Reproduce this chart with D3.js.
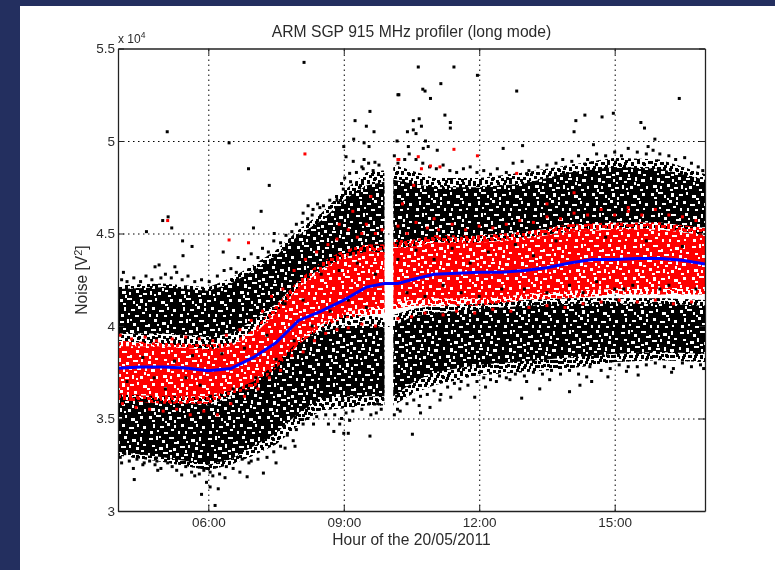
<!DOCTYPE html>
<html>
<head>
<meta charset="utf-8">
<script src="https://cdn.jsdelivr.net/npm/d3@7"></script>
<style>
  html, body { margin: 0; padding: 0; background: #fff; }
  svg { display: block; }
  text { font-family: "Liberation Sans", Arial, sans-serif; fill: #2b2b2b; }
</style>
</head>
<body>
<div id="chart"></div>
<script>
// values are in units of 10^4 V^2, hours are hours of the day
const xTicks = [6, 9, 12, 15];
const xTickLabels = ['06:00', '09:00', '12:00', '15:00'];
const yTicks = [3, 3.5, 4, 4.5, 5, 5.5];
const yTickLabels = ['3', '3.5', '4', '4.5', '5', '5.5'];

const meanHours = [4, 4.5, 5, 5.5, 6, 6.5, 7, 7.5, 8, 8.5, 9, 9.5, 9.9, 10.2, 10.5, 11, 11.5, 12, 12.5, 13, 13.5, 14, 14.5, 15, 15.5, 16, 16.5, 17];
const meanNoise = [3.771, 3.778, 3.778, 3.773, 3.758, 3.77, 3.83, 3.91, 4.03, 4.08, 4.14, 4.21, 4.23, 4.23, 4.25, 4.28, 4.285, 4.29, 4.29, 4.30, 4.315, 4.34, 4.36, 4.36, 4.365, 4.365, 4.355, 4.335];

// envelopes of the dense clouds, read at these hours. null is the data gap near 10:00
const bandHours = [4, 5, 6, 6.5, 7, 7.5, 8, 8.5, 9, 9.5, 9.9, 10, 10.1, 10.5, 11, 12, 13, 14, 15, 16, 17];

const upperTop = [4.22, 4.23, 4.21, 4.26, 4.33, 4.41, 4.52, 4.61, 4.73, 4.83, 4.84, null, 4.87, 4.84, 4.80, 4.80, 4.83, 4.87, 4.91, 4.90, 4.82];
const upperBottom = [3.92, 3.90, 3.87, 3.90, 3.97, 4.06, 4.18, 4.26, 4.33, 4.36, 4.37, null, 4.41, 4.42, 4.44, 4.45, 4.48, 4.51, 4.53, 4.53, 4.49];
const upperCoreTop = [4.20, 4.21, 4.19, 4.23, 4.30, 4.38, 4.49, 4.57, 4.68, 4.76, 4.78, null, 4.79, 4.77, 4.75, 4.75, 4.77, 4.83, 4.86, 4.85, 4.79];
const upperCoreBottom = [3.96, 3.96, 3.94, 3.96, 4.03, 4.12, 4.24, 4.31, 4.37, 4.40, 4.41, null, 4.44, 4.46, 4.47, 4.49, 4.51, 4.54, 4.56, 4.56, 4.53];

const lowerTop = [3.68, 3.665, 3.64, 3.68, 3.82, 3.87, 3.95, 4.00, 4.06, 4.06, 4.04, null, 4.06, 4.09, 4.11, 4.12, 4.14, 4.15, 4.15, 4.15, 4.14];
const lowerBottom = [3.30, 3.265, 3.22, 3.25, 3.30, 3.36, 3.465, 3.545, 3.555, 3.57, 3.57, null, 3.57, 3.63, 3.68, 3.735, 3.75, 3.77, 3.805, 3.815, 3.805];
const lowerCoreTop = [3.62, 3.60, 3.57, 3.62, 3.75, 3.83, 3.92, 3.97, 4.00, 4.00, 3.99, null, 4.00, 4.05, 4.07, 4.09, 4.11, 4.12, 4.12, 4.12, 4.11];
const lowerCoreBottom = [3.32, 3.29, 3.25, 3.28, 3.35, 3.42, 3.53, 3.61, 3.62, 3.62, 3.62, null, 3.62, 3.69, 3.75, 3.79, 3.81, 3.83, 3.85, 3.86, 3.85];

const redTop = [3.92, 3.91, 3.90, 3.91, 3.98, 4.11, 4.25, 4.345, 4.41, 4.44, 4.44, null, 4.465, 4.465, 4.49, 4.49, 4.51, 4.55, 4.56, 4.56, 4.53];
const redBottom = [3.60, 3.58, 3.58, 3.63, 3.665, 3.77, 3.90, 3.99, 4.04, 4.06, 4.06, null, 4.09, 4.11, 4.11, 4.11, 4.14, 4.15, 4.17, 4.17, 4.17];
const redCoreTop = [3.89, 3.89, 3.87, 3.89, 3.95, 4.07, 4.21, 4.30, 4.37, 4.40, 4.40, null, 4.42, 4.43, 4.45, 4.45, 4.47, 4.51, 4.52, 4.52, 4.49];
const redCoreBottom = [3.63, 3.62, 3.62, 3.65, 3.70, 3.80, 3.92, 4.01, 4.07, 4.10, 4.10, null, 4.13, 4.14, 4.15, 4.15, 4.17, 4.19, 4.20, 4.20, 4.20];

// separate points read one by one: [hour, noise]
const blackOutliers = [
  [8.12,5.425],[5.09,5.05],[6.46,4.99],[6.89,4.85],[7.35,4.76],[7.17,4.62],[7.0,4.53],[7.46,4.50],[4.63,4.51],[4.99,4.57],[5.11,4.59],[5.19,4.53],[5.43,4.46],[5.64,4.43],[5.44,4.38],[4.82,4.32],[4.91,4.33],[5.26,4.32],[4.12,4.29],[6.33,4.40],[6.66,4.37],
  [9.25,5.11],[9.58,5.16],[9.5,5.08],[9.67,5.05],[9.22,5.01],[9.45,4.99],[9.56,4.97],[9.0,4.97],[9.05,4.915],[9.21,4.89],[9.45,4.90],[9.69,4.885],[9.13,4.825],[9.43,4.85],[10.2,5.25],[10.18,5.0],
  [8.21,4.65],[8.32,4.63],[8.47,4.64],[8.1,4.61],[8.69,4.68],[8.84,4.70],[8.99,4.74],
  [10.65,5.40],[11.44,5.40],[11.96,5.355],[12.83,5.27],[10.22,5.25],[10.75,5.28],[10.8,5.27],[11.15,5.31],[10.92,5.23],[11.24,5.14],[10.54,5.11],[10.67,5.12],[10.72,5.08],[10.54,5.06],[10.41,5.05],[10.6,5.04],[11.36,5.10],[11.36,5.07],
  [16.43,5.23],[14.34,5.14],[14.72,5.13],[14.97,5.15],[14.14,5.11],[14.1,5.05],[15.58,5.10],[15.66,5.07],[15.89,5.01],[15.74,4.97],[14.53,4.98],[12.53,4.96],[12.96,4.975],[10.81,5.0],[10.87,4.97],[10.76,4.96],[10.43,4.97],[11.07,4.95],
  [5.85,3.09],[5.96,3.155],[6.04,3.13],[6.22,3.12],[6.15,3.03],[6.04,3.21],[6.37,3.18],[4.36,3.17],[4.34,3.23],[5.41,3.195],[5.63,3.21],[6.86,3.185],[7.22,3.205],[6.7,3.21],[7.5,3.26],[7.88,3.38],[7.92,3.35],[7.7,3.34],
  [9.0,3.42],[8.78,3.43],[9.1,3.42],[8.91,3.47],[9.58,3.405],[9.13,3.49],[8.66,3.47],[8.33,3.47],[9.72,3.53],[9.83,3.55],[4.08,3.26],[4.58,3.26],[4.88,3.22],[4.86,3.27],[6.9,3.26],
  [10.52,3.415],[10.7,3.53],[10.91,3.56],[10.67,3.57],[10.19,3.55],[10.17,3.62],[12.94,3.61],[14.0,3.645],[14.23,3.68],[13.34,3.66],[11.9,3.615],[11.37,3.615],[11.13,3.6],[12.14,3.67],[11.57,3.66],
  [16.26,3.75],[15.52,3.735],[15.26,3.755],[16.97,3.77],[14.38,3.725],[14.49,3.70],[14.85,3.725],[13.56,3.71],[13.05,3.70],[12.68,3.71],[12.38,3.70]
];

const upperFringe = [
  [4.08,4.25],[4.2,4.24],[4.35,4.26],[4.5,4.24],[4.62,4.27],[4.75,4.25],[4.95,4.26],[5.05,4.28],[5.18,4.26],[5.3,4.29],[5.42,4.25],[5.55,4.27],[5.7,4.24],[5.85,4.25],[6.02,4.24],[6.2,4.27],[6.35,4.30],[6.5,4.31],[6.62,4.29],[6.8,4.36],[6.95,4.39],[7.1,4.37],[7.2,4.42],[7.33,4.40],[7.45,4.46],[7.6,4.45],[7.72,4.49],[7.85,4.51],[7.95,4.55],[8.08,4.56],[8.2,4.58],[8.3,4.60],[8.42,4.66],[8.55,4.65],[8.7,4.64],[8.85,4.68],[8.95,4.77],[9.02,4.80],[9.15,4.78],[9.28,4.83],[9.4,4.86],[9.55,4.88],[9.65,4.84],[9.78,4.87],
  [10.12,4.92],[10.2,4.88],[10.35,4.90],[10.45,4.93],[10.6,4.90],[10.75,4.88],[10.9,4.86],[11.05,4.85],[11.2,4.87],[11.35,4.84],[11.5,4.83],[11.65,4.85],[11.8,4.86],[11.95,4.83],[12.1,4.84],[12.25,4.82],[12.4,4.85],[12.6,4.83],[12.75,4.88],[12.95,4.89],[13.1,4.84],[13.3,4.86],[13.5,4.87],[13.7,4.88],[13.85,4.90],[14.05,4.89],[14.2,4.92],[14.4,4.90],[14.6,4.93],[14.8,4.92],[15.0,4.94],[15.15,4.92],[15.3,4.96],[15.5,4.94],[15.7,4.93],[15.85,4.95],[16.0,4.93],[16.2,4.92],[16.35,4.90],[16.55,4.91],[16.7,4.88],[16.85,4.86],[16.95,4.84]
];

const lowerFringe = [
  [4.05,3.29],[4.15,3.31],[4.25,3.27],[4.42,3.28],[4.55,3.25],[4.7,3.27],[4.82,3.25],[4.95,3.23],[5.1,3.26],[5.2,3.24],[5.3,3.22],[5.5,3.24],[5.7,3.19],[5.8,3.2],[5.9,3.22],[6.1,3.19],[6.25,3.2],[6.4,3.24],[6.55,3.23],[6.75,3.28],[6.95,3.27],[7.1,3.28],[7.3,3.29],[7.45,3.32],[7.6,3.35],[7.75,3.41],[7.95,3.44],[8.1,3.47],[8.2,3.5],[8.4,3.51],[8.6,3.52],[8.8,3.52],[8.95,3.5],[9.05,3.53],[9.2,3.54],[9.4,3.55],[9.6,3.52],[9.75,3.58],
  [10.12,3.52],[10.25,3.54],[10.4,3.58],[10.55,3.6],[10.7,3.62],[10.85,3.63],[11,3.65],[11.15,3.63],[11.3,3.67],[11.45,3.69],[11.6,3.7],[11.75,3.68],[11.95,3.7],[12.1,3.72],[12.25,3.71],[12.45,3.73],[12.6,3.72],[12.8,3.74],[13,3.73],[13.2,3.75],[13.4,3.74],[13.6,3.76],[13.8,3.74],[14,3.76],[14.2,3.74],[14.45,3.78],[14.7,3.76],[14.9,3.77],[15.1,3.79],[15.3,3.78],[15.5,3.78],[15.7,3.79],[15.9,3.8],[16.1,3.78],[16.3,3.77],[16.5,3.8],[16.7,3.78],[16.9,3.79]
];

const blackOnRed = [
  [4.2,3.7],[4.55,3.83],[4.8,3.72],[5.05,3.66],[5.25,3.81],[5.5,3.72],[5.65,3.84],[5.82,3.68],[6.05,3.62],[6.3,3.85],[6.55,3.66],[6.8,3.88],[7.05,3.72],[7.3,3.95],[7.5,3.82],[7.7,4.12],[7.9,3.92],[8.1,4.14],[8.3,4.0],[8.5,4.28],[8.7,4.08],[8.9,4.3],[9.1,4.14],[9.3,4.34],[9.5,4.1],[9.7,4.28],
  [10.2,4.36],[10.4,4.18],[10.6,4.41],[10.8,4.16],[11,4.36],[11.2,4.22],[11.4,4.42],[11.6,4.18],[11.8,4.34],[12,4.16],[12.2,4.4],[12.5,4.2],[12.8,4.44],[13.0,4.2],[13.2,4.38],[13.5,4.18],[13.7,4.46],[14,4.22],[14.3,4.18],[14.6,4.24],[14.8,4.48],[15,4.2],[15.2,4.2],[15.4,4.22],[15.7,4.46],[16,4.2],[16.2,4.22],[16.5,4.43],[16.8,4.2]
];

const redOutliers = [
  [5.1,4.57],[6.46,4.465],[6.89,4.45],[8.14,4.93],[10.2,4.90],[11.44,4.955],[11.96,4.92],[10.22,4.90],[10.65,4.915],[12.83,4.825],[10.92,4.865],[10.72,4.85],[11.13,4.86],
  [8.9,4.55],[9.2,4.62],[9.4,4.5],[9.6,4.7],[10.3,4.66],[10.55,4.76],[11.0,4.58],[13.5,4.66],[14.1,4.72],[15.3,4.64],
  [4.05,3.95],[4.3,3.93],[4.6,3.94],[4.85,3.92],[5.2,3.93],[5.5,3.94],[5.8,3.93],[6.1,3.92],[6.4,3.95],[6.7,3.98],[6.95,4.03],[7.2,4.08],[7.4,4.16],[7.65,4.2],[7.9,4.3],[8.15,4.36],[8.4,4.4],[8.65,4.44],[8.85,4.47],[9.1,4.52],[9.3,4.48],[9.5,4.55],[9.7,4.5],[9.85,4.52],[10.2,4.54],[10.4,4.5],[10.6,4.56],[10.85,4.53],[11.1,4.52],[11.4,4.55],[11.7,4.52],[12,4.54],[12.3,4.53],[12.6,4.55],[12.9,4.57],[13.2,4.56],[13.5,4.59],[13.8,4.58],[14.1,4.61],[14.4,4.6],[14.7,4.63],[15,4.6],[15.3,4.62],[15.6,4.6],[15.9,4.63],[16.2,4.6],[16.5,4.59],[16.8,4.57],
  [4.1,3.58],[4.4,3.56],[4.7,3.55],[5,3.54],[5.3,3.55],[5.6,3.52],[5.9,3.54],[6.2,3.52],[6.5,3.58],[6.8,3.62],[7.1,3.66],[7.35,3.72],[7.6,3.76],[7.85,3.84],[8.1,3.86],[8.35,3.92],[8.6,3.96],[8.85,3.98],[9.1,3.99],[9.4,4.01],[9.7,4.0],[10.2,4.04],[10.5,4.05],[10.8,4.07],[11.2,4.06],[11.5,4.08],[11.9,4.07],[12.3,4.09],[12.7,4.08],[13.1,4.1],[13.5,4.11],[13.9,4.1],[14.3,4.12],[14.7,4.13],[15.1,4.14],[15.5,4.13],[15.9,4.14],[16.3,4.12],[16.7,4.13]
];

const width = 775;
const height = 570;
const margin = { top: 48.5, right: 70, bottom: 59, left: 118 };

const svg = d3.select('#chart').append('svg')
  .attr('width', width)
  .attr('height', height);

// slide background
svg.append('rect').attr('width', width).attr('height', height).attr('fill', '#232f5f');
svg.append('rect').attr('x', 20).attr('y', 6).attr('width', width - 20).attr('height', height - 6).attr('fill', '#fff');

const x = d3.scaleLinear().domain([4, 17]).range([margin.left, width - margin.right]);
const y = d3.scaleLinear().domain([3, 5.5]).range([height - margin.bottom, margin.top]);

// the clouds are too dense to read point by point, so they get a speckled fill:
// loose blobs on the outside of a cloud, a solid colour with white holes in its core
const blobTile = [
  [1,2],[6,0],[12,3],[17,1],[24,2],[29,5],[35,1],[41,3],[47,0],[53,4],
  [3,7],[9,8],[15,6],[21,7],[27,10],[33,6],[38,8],[44,7],[50,9],[56,8],
  [0,12],[6,13],[12,11],[18,12],[23,13],[31,12],[36,14],[42,12],[47,13],[54,14],
  [3,17],[9,18],[15,16],[20,18],[26,16],[29,19],[34,18],[40,17],[45,18],[51,18],[57,19],
  [1,22],[7,23],[13,21],[18,23],[24,21],[31,24],[37,22],[43,23],[49,23],[55,24],
  [4,27],[10,28],[15,26],[21,27],[27,26],[34,28],[40,27],[46,28],[52,28],[57,29],
  [0,32],[7,33],[13,32],[18,31],[24,32],[30,31],[36,33],[43,32],[49,33],[54,33],
  [3,37],[10,38],[16,36],[21,37],[27,36],[33,38],[39,37],[45,37],[51,38],[56,38],
  [1,42],[7,43],[13,41],[19,42],[24,42],[30,43],[36,42],[42,42],[48,43],[54,43],
  [4,47],[10,47],[16,46],[22,47],[27,48],[33,47],[39,47],[45,48],[51,48],[57,48]
];
const holeTile = [
  [2,3,3,1],[9,1,1,3],[15,5,2,2],[22,2,4,1],[30,6,1,2],[36,1,2,2],[44,4,3,2],[52,2,1,3],
  [5,10,2,1],[12,12,3,2],[19,9,1,3],[26,13,2,2],[33,11,4,1],[41,10,1,2],[48,12,2,2],[55,9,2,1],
  [1,18,1,2],[8,19,2,3],[16,17,4,1],[23,20,1,2],[29,18,2,2],[37,19,3,1],[45,18,1,3],[51,20,3,2],
  [4,26,3,2],[11,27,1,2],[18,25,2,2],[25,28,3,1],[32,26,1,3],[40,27,2,2],[47,25,2,1],[56,27,1,2],
  [2,34,2,2],[9,33,4,1],[15,36,1,2],[22,34,2,3],[30,35,3,1],[37,33,1,2],[43,36,3,2],[52,34,2,2],
  [6,42,1,3],[13,44,3,1],[20,41,2,2],[27,43,1,2],[34,42,2,2],[41,45,4,1],[49,42,1,2],[55,44,2,2],
  [3,49,2,2],[17,50,3,1],[31,49,1,2],[46,50,2,1],
  [12,1,1,1],[27,7,2,1],[39,6,1,1],[49,7,1,2],[8,14,1,1],[22,15,2,1],[38,15,1,2],[53,15,2,1],
  [12,22,2,1],[26,23,1,1],[34,22,2,1],[44,23,1,2],[7,30,1,2],[21,30,2,1],[36,29,1,1],[50,30,2,1],
  [5,38,2,1],[18,39,1,1],[27,38,1,2],[47,39,2,1],[10,48,1,1],[24,47,2,1],[38,49,1,2],[53,49,1,1]
];
const defs = svg.append('defs');

function tile(id, shift) {
  return defs.append('pattern')
    .attr('id', id)
    .attr('patternUnits', 'userSpaceOnUse')
    .attr('patternTransform', `translate(${shift})`)
    .attr('width', 59)
    .attr('height', 53);
}
function blobs(id, color, shift) {
  tile(id, shift).selectAll('rect').data(blobTile).join('rect')
    .attr('x', d => d[0])
    .attr('y', d => d[1])
    .attr('width', 3)
    .attr('height', 3)
    .attr('fill', color);
}
function holes(id, color, shift) {
  const p = tile(id, shift);
  p.append('rect').attr('width', 59).attr('height', 53).attr('fill', color);
  p.selectAll('rect.hole').data(holeTile).join('rect')
    .attr('class', 'hole')
    .attr('x', d => d[0])
    .attr('y', d => d[1])
    .attr('width', d => d[2] + 1)
    .attr('height', d => d[3] + 1)
    .attr('fill', '#fff');
}
blobs('blackLoose', '#000', '0,0');
blobs('blackLoose2', '#000', '31,19');
blobs('redLoose', '#f00', '17,23');
blobs('redLoose2', '#f00', '44,8');
holes('blackCore', '#000', '0,0');
holes('blackCoreLow', '#000', '29,11');
holes('redCore', '#f00', '41,31');

defs.append('clipPath').attr('id', 'plot')
  .append('rect')
  .attr('x', margin.left).attr('y', margin.top)
  .attr('width', x.range()[1] - x.range()[0])
  .attr('height', y.range()[0] - y.range()[1]);

defs.append('filter').attr('id', 'soft')
  .attr('filterUnits', 'userSpaceOnUse')
  .attr('x', 0).attr('y', 0).attr('width', width).attr('height', height)
  .append('feGaussianBlur').attr('stdDeviation', 0.45);

const chart = svg.append('g').attr('filter', 'url(#soft)');

// grid under the data
const gridStyle = g => {
  g.select('.domain').remove();
  g.selectAll('.tick line').attr('stroke', '#000').attr('stroke-dasharray', '1.5 3.5');
  g.selectAll('.tick text').remove();
};
chart.append('g')
  .attr('transform', `translate(0,${y(3)})`)
  .call(d3.axisBottom(x).tickValues(xTicks).tickSize(-(y(3) - y(5.5))))
  .call(gridStyle);
chart.append('g')
  .attr('transform', `translate(${x(4)},0)`)
  .call(d3.axisLeft(y).tickValues(yTicks.slice(1, 5)).tickSize(-(x(17) - x(4))))
  .call(gridStyle);

const data = chart.append('g').attr('clip-path', 'url(#plot)');

function band(top, bottom, fill) {
  const area = d3.area()
    .defined((d, i) => top[i] !== null)
    .x(d => x(d))
    .y0((d, i) => y(bottom[i]))
    .y1((d, i) => y(top[i]));
  data.append('path').datum(bandHours).attr('d', area).attr('fill', fill);
}

function dots(points, color) {
  data.append('g').selectAll('rect').data(points).join('rect')
    .attr('x', d => x(d[0]) - 1.5)
    .attr('y', d => y(d[1]) - 1.5)
    .attr('width', 3)
    .attr('height', 3)
    .attr('fill', color);
}

band(upperTop, upperBottom, 'url(#blackLoose)');
band(upperTop, upperBottom, 'url(#blackLoose2)');
band(lowerTop, lowerBottom, 'url(#blackLoose)');
band(lowerTop, lowerBottom, 'url(#blackLoose2)');
band(upperCoreTop, upperCoreBottom, 'url(#blackCore)');
band(lowerCoreTop, lowerCoreBottom, 'url(#blackCoreLow)');
dots(blackOutliers, '#000');
dots(upperFringe, '#000');
dots(lowerFringe, '#000');

band(redTop, redBottom, 'url(#redLoose)');
band(redTop, redBottom, 'url(#redLoose2)');
band(redCoreTop, redCoreBottom, 'url(#redCore)');
dots(redOutliers, '#f00');
dots(blackOnRed, '#000');

const meanLine = d3.line()
  .x(d => x(d))
  .y((d, i) => y(meanNoise[i]));
data.append('path').datum(meanHours)
  .attr('d', meanLine)
  .attr('fill', 'none')
  .attr('stroke', '#0000ff')
  .attr('stroke-width', 3);

// frame and ticks
const axisStyle = g => {
  g.select('.domain').attr('stroke', '#222').attr('stroke-width', 1.3);
  g.selectAll('.tick line').attr('stroke', '#222');
  g.selectAll('text').attr('font-size', 13.5).attr('font-family', '"Liberation Sans", Arial, sans-serif');
};
chart.append('g')
  .attr('transform', `translate(0,${y(3)})`)
  .call(d3.axisBottom(x).tickValues(xTicks).tickFormat((d, i) => xTickLabels[i]).tickSize(-6).tickSizeOuter(0).tickPadding(6))
  .call(axisStyle);
chart.append('g')
  .attr('transform', `translate(${x(4)},0)`)
  .call(d3.axisLeft(y).tickValues(yTicks).tickFormat((d, i) => yTickLabels[i]).tickSize(-6).tickSizeOuter(0).tickPadding(3))
  .call(axisStyle);
chart.append('g')
  .attr('transform', `translate(0,${y(5.5)})`)
  .call(d3.axisTop(x).tickValues(xTicks).tickFormat('').tickSize(-6).tickSizeOuter(0))
  .call(axisStyle);
chart.append('g')
  .attr('transform', `translate(${x(17)},0)`)
  .call(d3.axisRight(y).tickValues(yTicks).tickFormat('').tickSize(-6).tickSizeOuter(0))
  .call(axisStyle);

chart.append('text')
  .attr('x', 411.5)
  .attr('y', 37)
  .attr('text-anchor', 'middle')
  .attr('font-size', 15.7)
  .text('ARM SGP 915 MHz profiler (long mode)');

const scale = chart.append('text').attr('x', 118).attr('y', 42.5).attr('font-size', 12);
scale.append('tspan').text('x 10');
scale.append('tspan').attr('dy', -5).attr('font-size', 8.5).text('4');

chart.append('text')
  .attr('x', 411.5)
  .attr('y', 545)
  .attr('text-anchor', 'middle')
  .attr('font-size', 15.6)
  .text('Hour of the 20/05/2011');

const ylab = chart.append('text')
  .attr('transform', 'translate(87,280) rotate(-90)')
  .attr('text-anchor', 'middle')
  .attr('font-size', 15.6);
ylab.append('tspan').text('Noise [V');
ylab.append('tspan').attr('dy', -5).attr('font-size', 11).text('2');
ylab.append('tspan').attr('dy', 5).text(']');
</script>
</body>
</html>
